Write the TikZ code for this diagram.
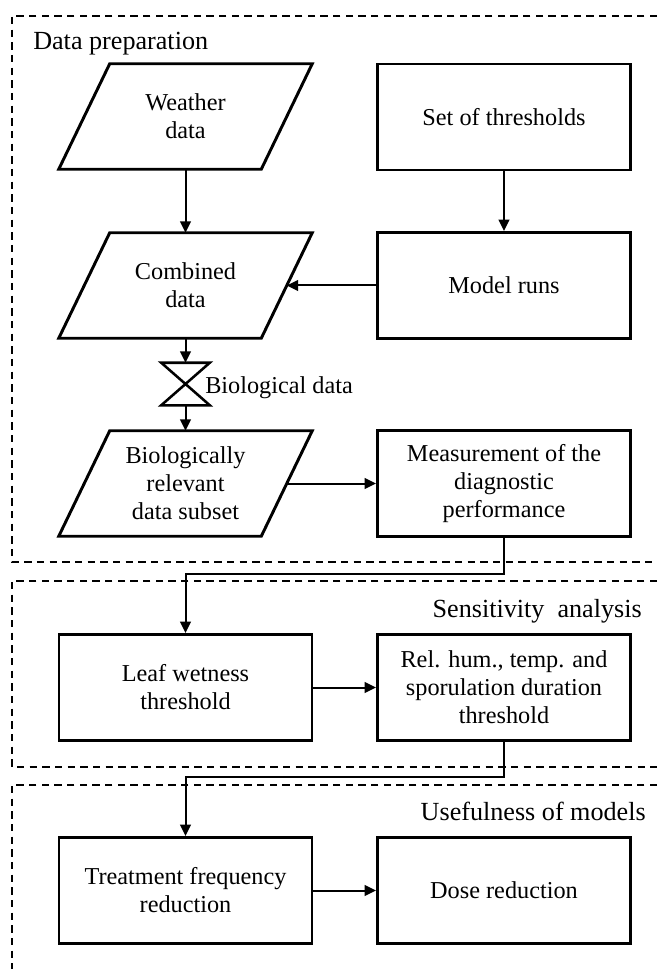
\documentclass[tikz,border=0pt]{standalone}
\usepackage{fontspec}
\setmainfont{Liberation Serif}
\usetikzlibrary{arrows.meta,calc}
\begin{document}
\begin{tikzpicture}[x=0.75pt,y=-0.75pt,
  boxtext/.style={align=center,font=\fontsize{18.2}{21}\selectfont,inner sep=0pt,minimum width=189.75pt,minimum height=79.5pt},
  procbox/.style={boxtext,draw,line width=2.2pt},
  databox/.style={boxtext,minimum height=78.75pt},
  shapeline/.style={line width=2.2pt,line join=miter},
  conn/.style={line width=1.5pt,-{Triangle[length=8.5pt,width=8pt]}},
  frame/.style={line width=1.5pt,dash pattern=on 5.5pt off 4pt},
  title/.style={font=\fontsize{19.6}{23}\selectfont,inner sep=0pt},
  label/.style={font=\fontsize{18.2}{21}\selectfont,inner sep=0pt}]
\useasboundingbox (0,0) rectangle (657,969);
% section frames
\draw[frame] (657,16) -- (12,16) -- (12,562) -- (657,562);
\draw[frame] (657,581) -- (12,581) -- (12,767) -- (657,767);
\draw[frame] (657,785) -- (12,785) -- (12,969);
\node[title,anchor=base west] (t1) at (33,50) {Data preparation};
\node[title,anchor=base east] (t2) at (642,617) {Sensitivity\ \ analysis};
\node[title,anchor=base east] (t3) at (646,820) {Usefulness of models};
% data (parallelogram) nodes
\newcommand\drawpar[1]{\draw[shapeline] ($(#1.north west)+(51,0)$) -- (#1.north east) -- ($(#1.south east)-(51,0)$) -- (#1.south west) -- cycle;}
\node[databox] (wd) at (185.5,116.5) {Weather\\data};
\drawpar{wd}
\node[databox] (cd) at (185.5,285.5) {Combined\\data};
\drawpar{cd}
\node[databox] (bio) at (185.5,483.5) {Biologically\\relevant\\data subset};
\drawpar{bio}
\coordinate (cdR) at ($(cd.east)-(25.5,0)$);
\coordinate (bioR) at ($(bio.east)-(25.5,0)$);
% process boxes
\node[procbox] (set) at (504,117) {Set of thresholds};
\node[procbox] (mr) at (504,285.5) {Model runs};
\node[procbox] (meas) at (504,483.5) {Measurement of the\\diagnostic\\performance};
\node[procbox] (leaf) at (185.5,687.5) {Leaf wetness\\threshold};
\node[procbox] (rel) at (504,687.5) {Rel. hum., temp. and\\sporulation duration\\threshold};
\node[procbox] (treat) at (185.5,890.5) {Treatment frequency\\reduction};
\node[procbox] (dose) at (504,890.5) {Dose reduction};
% bowtie (collate)
\node[inner sep=0pt,minimum width=36pt,minimum height=31.5pt] (bt) at (185.5,384) {};
\draw[shapeline,line width=1.9pt] (bt.north west) -- (bt.north east) -- (bt.south west) -- (bt.south east) -- cycle;
\node[label,anchor=base west] (bl) at (205,393) {Biological data};
% connectors
\draw[conn] (wd.south) -- (cd.north);
\draw[conn] (set.south) -- (mr.north);
\draw[conn] (mr.west) -- (cdR);
\draw[conn] (cd.south) -- (bt.north);
\draw[conn] (bt.south) -- (bio.north);
\draw[conn] (bioR) -- (meas.west);
\draw[conn] (meas.south) -- ++(0,36) -| (leaf.north);
\draw[conn] (leaf.east) -- (rel.west);
\draw[conn] (rel.south) -- ++(0,35) -| (treat.north);
\draw[conn] (treat.east) -- (dose.west);
\end{tikzpicture}
\end{document}
